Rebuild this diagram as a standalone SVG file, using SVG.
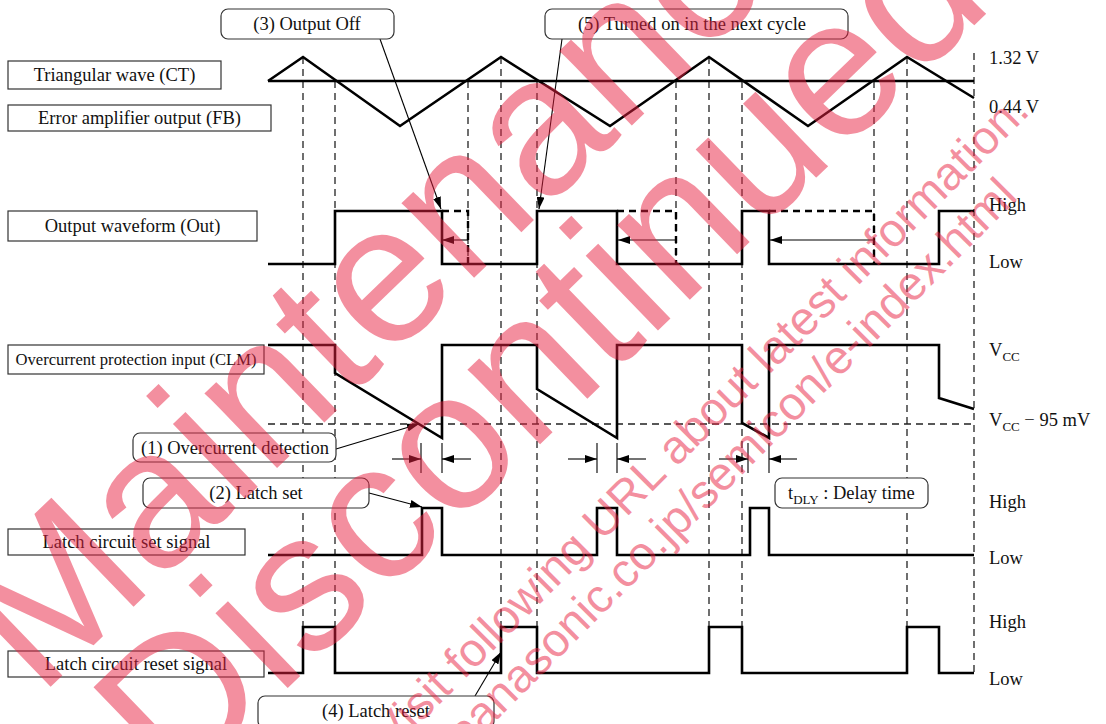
<svg xmlns="http://www.w3.org/2000/svg" width="1106" height="724" viewBox="0 0 1106 724">
<style>
.lbl{fill:#fff;stroke:#333;stroke-width:1.2}
.call{fill:#fff;stroke:#333;stroke-width:1.2}
.t{font-family:"Liberation Serif","Times New Roman",serif;font-size:18.5px;fill:#111}
.tm{text-anchor:middle}
.grid{fill:none;stroke:#222;stroke-width:1.3;stroke-dasharray:7 5}
.wave{fill:none;stroke:#000;stroke-width:2.6;stroke-linejoin:miter}
.wdash{fill:none;stroke:#000;stroke-width:2.4;stroke-dasharray:7 5}
.thin{fill:none;stroke:#000;stroke-width:1.1}
.wm{font-family:"Liberation Sans",Arial,sans-serif;fill:#e8203f;fill-opacity:0.5}
</style>
<defs>
<marker id="ah" markerUnits="userSpaceOnUse" markerWidth="12" markerHeight="8" refX="12" refY="4" orient="auto">
<path d="M0,0 L12,4 L0,8 z" fill="#000"/>
</marker>
</defs>
<rect width="1106" height="724" fill="#fff"/>

<g id="grid">
<path class="grid" d="M303,57V627M335,81V627M468,81V264M501,57V627M537,81V627M676,81V264M709,57V627M742,81V673M874,81V264M907,57V627M974,53V673"/>
<path class="grid" d="M268,424H974"/>
</g>

<g id="labels">
<g id="lbl-ct"><rect class="lbl" x="8" y="61" width="213" height="28"/><text class="t tm" x="114.5" y="81">Triangular wave (CT)</text></g>
<g id="lbl-fb"><rect class="lbl" x="8" y="105" width="263" height="26"/><text class="t tm" x="139.5" y="124">Error amplifier output (FB)</text></g>
<g id="lbl-out"><rect class="lbl" x="8" y="211" width="249" height="30"/><text class="t tm" x="132.5" y="232">Output waveform (Out)</text></g>
<g id="lbl-clm"><rect class="lbl" x="8" y="345" width="256" height="29"/><text class="t tm" x="136" y="365" style="font-size:16.6px">Overcurrent protection input (CLM)</text></g>
<g id="lbl-set"><rect class="lbl" x="8" y="529" width="237" height="26"/><text class="t tm" x="126.5" y="548">Latch circuit set signal</text></g>
<g id="lbl-reset"><rect class="lbl" x="8" y="651" width="256" height="26"/><text class="t tm" x="136" y="670">Latch circuit reset signal</text></g>
</g>

<g id="levels">
<text class="t" x="989" y="64">1.32 V</text>
<text class="t" x="989" y="113">0.44 V</text>
<text class="t" x="989" y="211">High</text>
<text class="t" x="989" y="268">Low</text>
<text class="t" x="989" y="356">V<tspan dy="5" style="font-size:13px">CC</tspan></text>
<text class="t" x="989" y="426">V<tspan dy="5" style="font-size:13px">CC</tspan><tspan dy="-5"> − 95 mV</tspan></text>
<text class="t" x="989" y="508">High</text>
<text class="t" x="989" y="564">Low</text>
<text class="t" x="989" y="628">High</text>
<text class="t" x="989" y="685">Low</text>
</g>

<g id="waves">
<path id="ct" class="wave" d="M268,81 L303,57 L400,126 L501,57 L610,126 L709,57 L808,126 L907,57 L974,98"/>
<path id="fb" class="wave" d="M268,81 H974"/>
<path id="out" class="wave" d="M268,264 H335 V211 H442 V264 H537 V211 H617 V264 H742 V211 H769 V264 H939 V211 H974"/>
<path id="out-ext" class="wdash" d="M442,211 H468 V264 M617,211 H676 V264 M769,211 H874 V264"/>
<path id="clm" class="wave" d="M268,345 H335 V373 L442,438 V345 H537 V389 L617,438 V345 H742 V423 L769,438 V345 H939 V398 L974,409"/>
<path id="set" class="wave" d="M268,555 H422 V508 H442 V555 H597 V508 H617 V555 H750 V508 H769 V555 H974"/>
<path id="reset" class="wave" d="M268,673 H303 V627 H335 V673 H501 V627 H537 V673 H709 V627 H742 V673 H907 V627 H939 V673 H974"/>
</g>

<g id="connectors">
<path class="thin" d="M468,240 H442" marker-end="url(#ah)"/>
<path class="thin" d="M676,240 H618" marker-end="url(#ah)"/>
<path class="thin" d="M874,240 H770" marker-end="url(#ah)"/>
<path class="thin" d="M421,443V473M442,443V473M597,443V473M617,443V473M748,443V473M769,443V473"/>
<path class="thin" d="M392,459 H421" marker-end="url(#ah)"/>
<path class="thin" d="M471,459 H442" marker-end="url(#ah)"/>
<path class="thin" d="M568,459 H597" marker-end="url(#ah)"/>
<path class="thin" d="M646,459 H617" marker-end="url(#ah)"/>
<path class="thin" d="M719,459 H748" marker-end="url(#ah)"/>
<path class="thin" d="M797,459 H769" marker-end="url(#ah)"/>
<path class="thin" d="M380,39 L441,209" marker-end="url(#ah)"/>
<path class="thin" d="M562,39 L539,209" marker-end="url(#ah)"/>
<path class="thin" d="M336,449 L419,424" marker-end="url(#ah)"/>
<path class="thin" d="M369,493 L422,507" marker-end="url(#ah)"/>
<path class="thin" d="M475,696 L501,652" marker-end="url(#ah)"/>
</g>

<g id="callouts">
<g id="c3"><rect class="call" x="221" y="9" width="173" height="30" rx="7"/><text class="t tm" x="307" y="30">(3) Output Off</text></g>
<g id="c5"><rect class="call" x="545" y="9" width="303" height="30" rx="7"/><text class="t tm" x="692" y="30">(5) Turned on in the next cycle</text></g>
<g id="c1"><rect class="call" x="133" y="433" width="203" height="29" rx="7"/><text class="t tm" x="235" y="454">(1) Overcurrent detection</text></g>
<g id="c2"><rect class="call" x="143" y="478" width="226" height="30" rx="7"/><text class="t tm" x="256" y="499">(2) Latch set</text></g>
<g id="cdly"><rect class="call" x="775" y="478" width="153" height="30" rx="7"/><text class="t" x="788" y="499">t<tspan dy="5" style="font-size:13px">DLY</tspan><tspan dy="-5"> : Delay time</tspan></text></g>
<g id="c4"><rect class="call" x="258" y="696" width="236" height="32" rx="7"/><text class="t tm" x="376" y="717">(4) Latch reset</text></g>
</g>

<g id="watermark">
<text class="wm" transform="translate(39,698) rotate(-44)" font-size="197">Maintenance/</text>
<text class="wm" transform="translate(176,796) rotate(-44)" font-size="197">Discontinued</text>
<text class="wm" transform="translate(392,752) rotate(-45)" font-size="47">Visit following URL about latest information.</text>
<text class="wm" transform="translate(465,752) rotate(-45)" font-size="47">panasonic.co.jp/semicon/e-index.html</text>
</g>
</svg>
